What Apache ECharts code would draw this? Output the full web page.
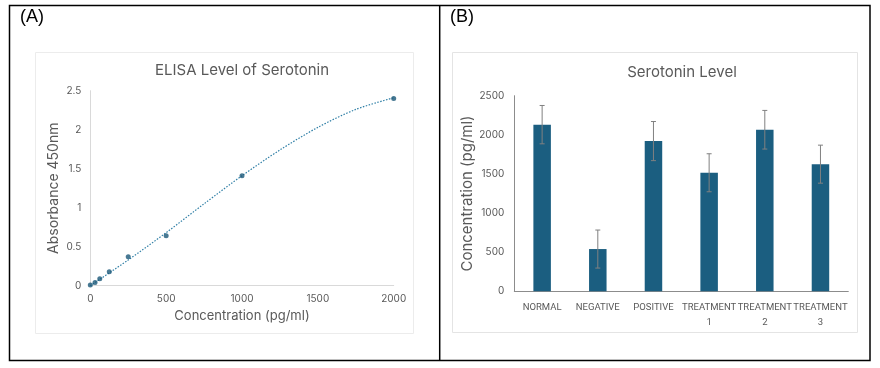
<!DOCTYPE html>
<html>
<head>
<meta charset="utf-8">
<script src="https://cdn.jsdelivr.net/npm/echarts@6/dist/echarts.min.js"></script>
<style>
html,body{margin:0;padding:0;background:#fff;}
#chart{width:880px;height:368px;}
</style>
</head>
<body>
<div id="chart"></div>
<script>
// Panel A: ELISA standard curve
const concX = [0, 31.25, 62.5, 125, 250, 500, 1000, 2000];
const absorbanceY = [0.01, 0.04, 0.09, 0.18, 0.37, 0.64, 1.41, 2.40];
// Trendline
const trendX = [0, 250, 500, 750, 1000, 1250, 1500, 1750, 2000];
const trendY = [0.0, 0.33, 0.68, 1.05, 1.41, 1.74, 2.03, 2.26, 2.41];
const xTicksA = [0, 500, 1000, 1500, 2000];
const yTicksA = [0, 0.5, 1, 1.5, 2, 2.5];

// Panel B: Serotonin level
const groups = ['NORMAL', 'NEGATIVE', 'POSITIVE', 'TREATMENT\n1', 'TREATMENT\n2', 'TREATMENT\n3'];
const serotonin = [2130, 540, 1920, 1515, 2065, 1625];
const serotoninErr = [245, 243, 250, 243, 247, 243];
const yTicksB = [0, 500, 1000, 1500, 2000, 2500];

const FONT = 'Inter, "Noto Sans", sans-serif';
const GRAY = '#595959';
const plain = v => String(v);

const pointsA = concX.map((x, i) => [x, absorbanceY[i]]);
const trendA = trendX.map((x, i) => [x, trendY[i]]);
const errData = serotonin.map((v, i) => [i, v - serotoninErr[i], v + serotoninErr[i]]);

const chart = echarts.init(document.getElementById('chart'), null, {renderer: 'canvas'});
chart.setOption({
  animation: false,
  backgroundColor: '#fff',
  textStyle: {fontFamily: FONT},
  graphic: [
    {type: 'rect', shape: {x: 9.5, y: 5.5, width: 860.5, height: 355}, style: {fill: null, stroke: '#000', lineWidth: 1.5}, z: 0},
    {type: 'line', shape: {x1: 439.7, y1: 5.5, x2: 439.7, y2: 360.5}, style: {stroke: '#000', lineWidth: 1.5}},
    {type: 'rect', shape: {x: 35.5, y: 52.5, width: 378, height: 281}, style: {fill: null, stroke: '#ececec', lineWidth: 1}},
    {type: 'rect', shape: {x: 452.5, y: 52.5, width: 405, height: 280}, style: {fill: null, stroke: '#e4e4e4', lineWidth: 1}},
    {type: 'text', left: 20, top: 8, style: {text: '(A)', font: '18px "Liberation Sans", Arial, sans-serif', fill: '#000'}},
    {type: 'text', left: 450, top: 8, style: {text: '(B)', font: '18px "Liberation Sans", Arial, sans-serif', fill: '#000'}}
  ],
  title: [
    {text: 'ELISA Level of Serotonin', left: 237, top: 58, textAlign: 'center',
     textStyle: {fontFamily: FONT, fontSize: 15, fontWeight: 'normal', color: GRAY}},
    {text: 'Serotonin Level', left: 677, top: 60, textAlign: 'center',
     textStyle: {fontFamily: FONT, fontSize: 15, fontWeight: 'normal', color: GRAY}}
  ],
  grid: [
    {left: 90.3, right: 486.3, top: 90.7, bottom: 82.3},
    {left: 514.3, right: 31.7, top: 95.7, bottom: 76.7}
  ],
  xAxis: [
    {type: 'value', gridIndex: 0, min: xTicksA[0], max: xTicksA[xTicksA.length - 1], interval: xTicksA[1] - xTicksA[0],
     name: 'Concentration (pg/ml)', nameLocation: 'middle', nameGap: 24,
     nameTextStyle: {fontFamily: FONT, fontSize: 13, color: GRAY},
     axisLine: {show: true, lineStyle: {color: '#d9d9d9'}}, axisTick: {show: false},
     splitLine: {show: false},
     axisLabel: {fontFamily: FONT, fontSize: 10, color: GRAY, margin: 8, formatter: plain}},
    {type: 'category', gridIndex: 1, data: groups,
     axisLine: {show: true, lineStyle: {color: '#8c8c8c'}}, axisTick: {show: false},
     axisLabel: {fontFamily: 'Roboto, sans-serif', fontSize: 9.5, color: GRAY, margin: 9, interval: 0, lineHeight: 15}}
  ],
  yAxis: [
    {type: 'value', gridIndex: 0, min: yTicksA[0], max: yTicksA[yTicksA.length - 1], interval: yTicksA[1] - yTicksA[0],
     name: 'Absorbance 450nm', nameLocation: 'middle', nameGap: 30, nameRotate: 90,
     nameTextStyle: {fontFamily: FONT, fontSize: 14, color: GRAY},
     axisLine: {show: true, lineStyle: {color: '#d9d9d9'}}, axisTick: {show: false},
     splitLine: {show: false},
     axisLabel: {fontFamily: FONT, fontSize: 10, color: GRAY, margin: 9, formatter: plain}},
    {type: 'value', gridIndex: 1, min: yTicksB[0], max: yTicksB[yTicksB.length - 1], interval: yTicksB[1] - yTicksB[0],
     name: 'Concentration (pg/ml)', nameLocation: 'middle', nameGap: 36, nameRotate: 90,
     nameTextStyle: {fontFamily: FONT, fontSize: 15, color: GRAY},
     axisLine: {show: true, lineStyle: {color: '#8c8c8c'}}, axisTick: {show: false},
     splitLine: {show: false},
     axisLabel: {fontFamily: FONT, fontSize: 10, color: GRAY, margin: 10, formatter: plain}}
  ],
  series: [
    {type: 'line', xAxisIndex: 0, yAxisIndex: 0, data: trendA, smooth: 0.3, showSymbol: false,
     lineStyle: {color: '#2f7fa6', width: 1.2, type: [1.5, 1.5]}, z: 2},
    {type: 'scatter', xAxisIndex: 0, yAxisIndex: 0, data: pointsA, symbolSize: 5,
     itemStyle: {color: '#1a5878'}, z: 3},
    {type: 'bar', xAxisIndex: 1, yAxisIndex: 1, data: serotonin, barWidth: 17.5,
     itemStyle: {color: '#1b5e80'}, z: 2},
    {type: 'custom', xAxisIndex: 1, yAxisIndex: 1, data: errData, z: 3,
     renderItem: function (params, api) {
       const lo = api.coord([api.value(0), api.value(1)]);
       const hi = api.coord([api.value(0), api.value(2)]);
       const hw = 2.5;
       const st = {stroke: '#808080', lineWidth: 1};
       return {type: 'group', children: [
         {type: 'line', shape: {x1: hi[0], y1: hi[1], x2: lo[0], y2: lo[1]}, style: st},
         {type: 'line', shape: {x1: hi[0] - hw, y1: hi[1], x2: hi[0] + hw, y2: hi[1]}, style: st},
         {type: 'line', shape: {x1: lo[0] - hw, y1: lo[1], x2: lo[0] + hw, y2: lo[1]}, style: st}
       ]};
     }}
  ]
});
</script>
</body>
</html>
